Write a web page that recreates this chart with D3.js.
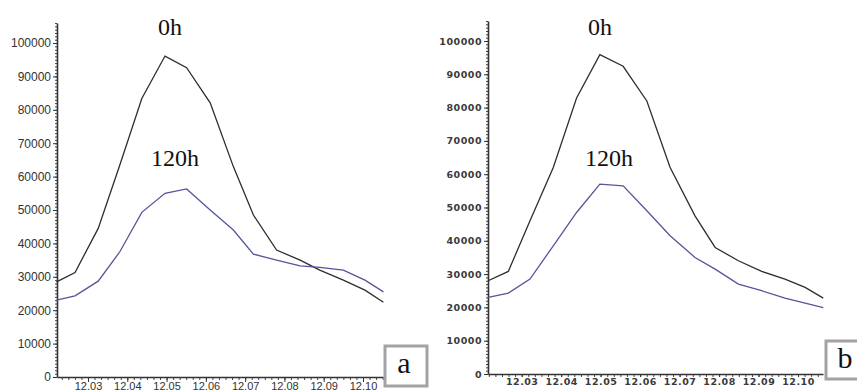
<!DOCTYPE html>
<html>
<head>
<meta charset="utf-8">
<script src="https://cdn.jsdelivr.net/npm/d3@7"></script>
<style>
  html, body { margin: 0; padding: 0; background: #fff; }
  svg { display: block; }
  .lblA text { font-family: "Liberation Sans", Arial, sans-serif; font-size: 12px; fill: #333; }
  .lblA.xax text { font-size: 11px; }
  .lblB text { font-family: "DejaVu Sans", Verdana, sans-serif; font-size: 9.5px; font-weight: bold; fill: #3a3a3a; letter-spacing: 0.5px; }
  .note { font-family: "Liberation Serif", "Times New Roman", serif; font-size: 24px; fill: #111; }
  .tag { font-family: "Liberation Serif", "Times New Roman", serif; font-size: 30px; fill: #111; }
</style>
</head>
<body>
<svg id="chart" width="857" height="392"></svg>
<script>
// day of December (12.03 -> 3)
const timesA = [2.20, 2.67, 3.26, 3.81, 4.37, 4.96, 5.51, 6.11, 6.70, 7.21, 7.80, 8.40, 8.90, 9.50, 10.05, 10.52];
const timesB = [2.15, 2.66, 3.21, 3.80, 4.39, 4.98, 5.57, 6.17, 6.76, 7.39, 7.90, 8.49, 9.08, 9.67, 10.18, 10.64];

const a0h   = [28500, 31300, 44500, 63500, 83400, 96100, 92600, 82100, 63000, 48500, 38000, 35000, 32000, 29000, 26000, 22400];
const a120h = [23000, 24300, 28700, 37500, 49300, 55000, 56300, 50000, 44000, 36800, 35000, 33300, 32800, 32000, 29000, 25500];

const b0h   = [28000, 30800, 46000, 62000, 82900, 95900, 92400, 82000, 62000, 47500, 38000, 34000, 30800, 28500, 26000, 22800];
const b120h = [23000, 24300, 28500, 38500, 48500, 57000, 56500, 49000, 41500, 35000, 31500, 27000, 25000, 22800, 21300, 19900];

const dayTicks = [3, 4, 5, 6, 7, 8, 9, 10];
const yTicks = [0, 10000, 20000, 30000, 40000, 50000, 60000, 70000, 80000, 90000, 100000];

const svg = d3.select('#chart');

const panels = [
  { key: 'a', cls: 'lblA', times: timesA, s0: a0h, s120: a120h,
    xr: [57, 383], xd: [2.211, 10.509], yr: [377, 23], labelDy: 5, tick: 5,
    n0: [170, 35], n120: [175, 166], box: [385, 346, 42, 40] },
  { key: 'b', cls: 'lblB', times: timesB, s0: b0h, s120: b120h,
    xr: [488, 823], xd: [2.146, 10.633], yr: [374, 21], labelDy: 4, tick: 3,
    n0: [600, 35], n120: [609, 166], box: [826, 341, 40, 38] }
];

panels.forEach(p => {
  const x = d3.scaleLinear().domain(p.xd).range(p.xr);
  const y = d3.scaleLinear().domain([0, 106000]).range(p.yr);
  const g = svg.append('g');

  // minor ticks
  const minorY = d3.range(0, 106001, 1000);
  g.append('g')
    .attr('transform', `translate(${p.xr[0]},0)`)
    .call(d3.axisLeft(y).tickValues(minorY).tickSize(2).tickFormat(''))
    .call(s => s.select('.domain').remove())
    .selectAll('line').attr('stroke', '#444');

  const minorX = d3.range(Math.ceil(p.xd[0] * 6), Math.floor(p.xd[1] * 6) + 1).map(d => d / 6);
  g.append('g')
    .attr('transform', `translate(0,${y(0)})`)
    .call(d3.axisBottom(x).tickValues(minorX).tickSize(3).tickFormat(''))
    .call(s => s.select('.domain').remove())
    .selectAll('line').attr('stroke', '#444');

  // major axes
  const ya = g.append('g')
    .attr('class', p.cls)
    .attr('transform', `translate(${p.xr[0]},0)`)
    .call(d3.axisLeft(y).tickValues(yTicks).tickSize(4).tickSizeOuter(0).tickPadding(2).tickFormat(d3.format('d')));
  ya.select('.domain').attr('stroke', '#333').attr('stroke-width', 1.6);
  ya.selectAll('.tick line').attr('stroke', '#333');

  const xa = g.append('g')
    .attr('class', p.cls + ' xax')
    .attr('transform', `translate(0,${y(0)})`)
    .call(d3.axisBottom(x).tickValues(dayTicks).tickSize(p.tick).tickSizeOuter(0)
      .tickFormat(d => '12.' + String(d).padStart(2, '0')));
  xa.select('.domain').attr('stroke', '#333').attr('stroke-width', 1.6);
  xa.selectAll('.tick line').attr('stroke', '#333');
  xa.selectAll('.tick text').attr('y', p.labelDy).attr('dy', '0.71em');

  const line = d3.line().x(d => x(d[0])).y(d => y(d[1]));

  g.append('path')
    .datum(p.times.map((t, i) => [t, p.s0[i]]))
    .attr('fill', 'none').attr('stroke', '#2e2e2e').attr('stroke-width', 1.3)
    .attr('d', line);

  g.append('path')
    .datum(p.times.map((t, i) => [t, p.s120[i]]))
    .attr('fill', 'none').attr('stroke', '#55559a').attr('stroke-width', 1.3)
    .attr('d', line);

  g.append('text').attr('class', 'note').attr('text-anchor', 'middle')
    .attr('x', p.n0[0]).attr('y', p.n0[1]).text('0h');
  g.append('text').attr('class', 'note').attr('text-anchor', 'middle')
    .attr('x', p.n120[0]).attr('y', p.n120[1]).text('120h');

  g.append('rect')
    .attr('x', p.box[0]).attr('y', p.box[1]).attr('width', p.box[2]).attr('height', p.box[3])
    .attr('fill', '#fff').attr('stroke', '#a3a3a3').attr('stroke-width', 3);
  g.append('text').attr('class', 'tag').attr('text-anchor', 'middle')
    .attr('x', p.box[0] + 19).attr('y', p.box[1] + 27).text(p.key);
});
</script>
</body>
</html>
